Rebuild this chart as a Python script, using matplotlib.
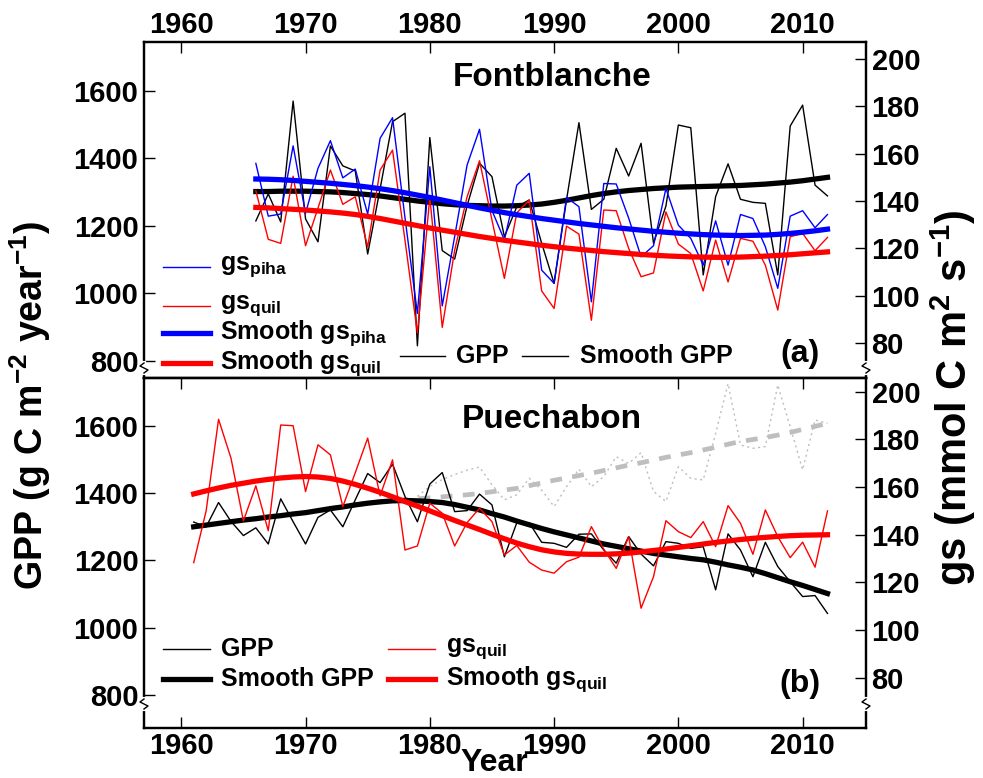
import numpy as np
import matplotlib
matplotlib.use('Agg')
import matplotlib.pyplot as plt
from matplotlib.lines import Line2D

plt.rcParams['font.family'] = ['Liberation Sans', 'DejaVu Sans']
plt.rcParams['font.weight'] = 'bold'
plt.rcParams['mathtext.fontset'] = 'custom'
for k in ('rm', 'it', 'bf', 'sf'):
    plt.rcParams['mathtext.' + k] = 'Liberation Sans:bold'

# ---- Fontblanche (1966-2012) ----
years_font = np.arange(1966, 2013)
gpp_font = [1215, 1295, 1212, 1570, 1221, 1153, 1437, 1378, 1363, 1117,
            1310, 1509, 1534, 845, 1462, 1127, 1102, 1260, 1386, 1346,
            1168, 1257, 1277, 1149, 1030, 1277, 1506, 1249, 1279, 1430,
            1348, 1445, 1149, 1259, 1499, 1491, 1055, 1287, 1384, 1279,
            1270, 1267, 1055, 1496, 1558, 1321, 1289]
gs_piha_font = [155.9, 133.6, 134.5, 163.3, 134.8, 153.8, 165.5, 149.8, 153.5, 134.5,
                166.5, 175.2, 133.0, 92.5, 154.5, 95.7, 125.0, 155.2, 170.3, 136.0,
                123.5, 146.7, 151.7, 110.8, 105.2, 141.5, 137.6, 97.4, 147.4, 147.2,
                132.8, 116.4, 121.1, 145.3, 129.8, 124.2, 112.9, 131.6, 112.9, 134.3,
                132.6, 120.7, 103.1, 133.6, 135.9, 128.7, 134.3]
gs_quil_font = [144.3, 123.8, 122.1, 150.5, 121.1, 137.0, 153.1, 138.6, 141.8, 120.6,
                153.1, 161.5, 123.5, 84.2, 141.8, 86.6, 119.2, 141.8, 157.0, 132.0,
                107.3, 135.0, 140.4, 102.0, 94.6, 129.4, 126.0, 89.6, 136.2, 135.9,
                120.0, 108.0, 109.6, 135.4, 121.8, 117.8, 102.0, 123.5, 105.8, 124.2,
                123.0, 112.9, 93.9, 124.9, 126.3, 119.0, 124.6]
smooth_gpp_font = [1302, 1302, 1303, 1303, 1303, 1302, 1301, 1299, 1296, 1293,
                   1289, 1284, 1279, 1274, 1270, 1266, 1263, 1261, 1260, 1259,
                   1259, 1260, 1262, 1265, 1270, 1276, 1283, 1290, 1296, 1301,
                   1305, 1308, 1311, 1313, 1315, 1316, 1317, 1318, 1319, 1320,
                   1322, 1324, 1327, 1330, 1334, 1339, 1344]
smooth_piha_font = [149.3, 149.2, 149.0, 148.7, 148.3, 147.9, 147.5, 147.0, 146.5, 145.9,
                    145.2, 144.4, 143.5, 142.5, 141.5, 140.4, 139.3, 138.2, 137.1, 136.1,
                    135.1, 134.2, 133.4, 132.6, 131.9, 131.2, 130.5, 129.9, 129.3, 128.7,
                    128.2, 127.7, 127.2, 126.8, 126.4, 126.1, 125.8, 125.6, 125.5, 125.4,
                    125.5, 125.6, 125.9, 126.3, 126.8, 127.4, 128.1]
smooth_quil_font = [137.3, 137.1, 136.8, 136.5, 136.2, 135.8, 135.4, 134.9, 134.3, 133.5,
                    132.6, 131.6, 130.6, 129.6, 128.6, 127.7, 126.8, 125.9, 125.0, 124.2,
                    123.4, 122.7, 122.0, 121.3, 120.7, 120.1, 119.6, 119.1, 118.6, 118.2,
                    117.8, 117.4, 117.1, 116.8, 116.6, 116.4, 116.3, 116.2, 116.2, 116.3,
                    116.5, 116.7, 117.0, 117.3, 117.7, 118.1, 118.5]

# ---- Puechabon (1961-2012) ----
years_pue = np.arange(1961, 2013)
gpp_pue = [1314, 1300, 1372, 1316, 1274, 1297, 1249, 1383, 1315, 1249,
           1328, 1350, 1300, 1380, 1458, 1431, 1486, 1390, 1315, 1427,
           1461, 1345, 1348, 1397, 1365, 1211, 1312, 1312, 1254, 1251,
           1239, 1278, 1279, 1231, 1192, 1271, 1219, 1184, 1256, 1251,
           1236, 1241, 1113, 1279, 1231, 1152, 1254, 1182, 1137, 1093,
           1096, 1043]
gs_quil_pue = [128.3, 150.0, 188.4, 172.1, 145.8, 160.5, 141.7, 186.0, 185.7, 158.1,
               177.7, 173.5, 151.8, 166.0, 180.5, 156.3, 171.4, 133.6, 135.3, 153.2,
               149.0, 135.3, 145.1, 151.1, 145.5, 131.5, 135.5, 128.5, 125.2, 123.9,
               128.7, 130.6, 143.4, 133.9, 125.9, 139.2, 109.2, 122.4, 145.9, 141.3,
               138.8, 145.5, 135.0, 152.2, 144.8, 131.8, 150.4, 139.2, 130.4, 136.9,
               126.4, 150.0]
smooth_gpp_pue = [1300, 1305, 1310, 1315, 1320, 1324, 1329, 1333, 1338, 1342,
                  1348, 1354, 1359, 1365, 1370, 1374, 1377, 1378, 1377, 1375,
                  1372, 1366, 1358, 1350, 1339, 1329, 1317, 1306, 1295, 1285,
                  1276, 1267, 1258, 1249, 1242, 1235, 1228, 1221, 1216, 1211,
                  1206, 1202, 1195, 1187, 1180, 1172, 1161, 1149, 1137, 1126,
                  1114, 1102]
smooth_quil_pue = [157.1, 158.4, 159.6, 160.7, 161.6, 162.5, 163.2, 163.8, 164.2, 164.4,
                   164.2, 163.6, 162.5, 161.1, 159.5, 157.8, 155.9, 153.9, 152.0, 150.0,
                   148.0, 146.0, 144.1, 142.2, 140.2, 138.3, 136.5, 135.0, 133.7, 132.8,
                   132.2, 131.9, 131.8, 131.8, 132.0, 132.3, 132.8, 133.4, 134.0, 134.7,
                   135.4, 136.1, 136.8, 137.4, 138.0, 138.5, 138.9, 139.3, 139.6, 139.8,
                   139.9, 140.0]
years_grey = np.arange(1979, 2013)
grey_pue = [1390, 1420, 1440, 1455, 1468, 1477, 1425, 1380, 1395, 1444,
            1409, 1360, 1419, 1471, 1419, 1449, 1508, 1488, 1520, 1405,
            1375, 1478, 1444, 1439, 1577, 1725, 1543, 1533, 1538, 1721,
            1597, 1469, 1617, 1607]
years_grey_smooth = np.arange(1972, 2013)
grey_smooth_pue = [1354, 1359, 1365, 1370, 1374, 1377, 1380, 1383, 1386, 1389,
                   1392, 1395, 1399, 1404, 1409, 1414, 1422, 1430, 1438, 1445,
                   1452, 1459, 1467, 1475, 1483, 1490, 1498, 1506, 1513, 1520,
                   1528, 1536, 1545, 1553, 1559, 1565, 1572, 1580, 1589, 1598,
                   1607]

xticks = [1960, 1970, 1980, 1990, 2000, 2010]
gpp_ticks = [800, 1000, 1200, 1400, 1600]
gs_ticks = [80, 100, 120, 140, 160, 180, 200]

W, H = 983, 778
def fx(x):
    return x / W
def fy(y):
    return 1 - y / H

fig = plt.figure(figsize=(W / 100, H / 100), dpi=100)
L, R, T, M, B = 144, 866, 42, 378, 728
ax1 = fig.add_axes([fx(L), fy(M), (R - L) / W, (M - T) / H])
ax2 = fig.add_axes([fx(L), fy(B), (R - L) / W, (B - M) / H])
ax1r = ax1.twinx()
ax2r = ax2.twinx()

thin, thick = 1.0, 3.8

# top panel
ax1.plot(years_font, gpp_font, color='black', lw=thin)
ax1.plot(years_font, smooth_gpp_font, color='black', lw=thick)
ax1r.plot(years_font, gs_piha_font, color='#0000FF', lw=thin)
ax1r.plot(years_font, gs_quil_font, color='#FF0000', lw=thin)
ax1r.plot(years_font, smooth_piha_font, color='#0000FF', lw=thick)
ax1r.plot(years_font, smooth_quil_font, color='#FF0000', lw=thick)

# bottom panel
ax2.plot(years_grey, grey_pue, color='#BEBEBE', lw=1.0, linestyle=(0, (1.5, 2.5)))
ax2.plot(years_grey_smooth, grey_smooth_pue, color='#BEBEBE', lw=3.4, linestyle=(0, (2.5, 2.2)))
ax2.plot(years_pue, gpp_pue, color='black', lw=thin)
ax2.plot(years_pue, smooth_gpp_pue, color='black', lw=thick)
ax2r.plot(years_pue, gs_quil_pue, color='#FF0000', lw=thin)
ax2r.plot(years_pue, smooth_quil_pue, color='#FF0000', lw=thick)

for ax in (ax1, ax2):
    ax.set_xlim(1957.0, 2015.1)
    ax.set_xticks(xticks)
    ax.set_yticks(gpp_ticks)
    for s in ax.spines.values():
        s.set_linewidth(1.6)
ax1.set_ylim(749.6, 1745)
ax1r.set_ylim(65.2, 207.2)
ax2.set_ylim(703, 1741.5)
ax2r.set_ylim(59, 205.7)
for axr in (ax1r, ax2r):
    axr.set_yticks(gs_ticks)
    for s in axr.spines.values():
        s.set_linewidth(1.6)

ts = 21
ax1.tick_params(axis='x', direction='in', top=True, bottom=False, labeltop=True,
                labelbottom=False, length=8, width=1, labelsize=ts, pad=2)
ax2.tick_params(axis='x', direction='in', top=True, bottom=True, labeltop=False,
                labelbottom=True, length=8, width=1, labelsize=ts, pad=3)
for ax in (ax1, ax2):
    ax.tick_params(axis='y', direction='in', length=8, width=1, labelsize=ts, pad=4)
for axr in (ax1r, ax2r):
    axr.tick_params(axis='y', direction='in', length=8, width=1, labelsize=ts, pad=4)

# titles and panel tags
fig.text(fx(552), fy(86), 'Fontblanche', ha='center', va='baseline', fontsize=24)
fig.text(fx(552), fy(428), 'Puechabon', ha='center', va='baseline', fontsize=24)
fig.text(fx(800), fy(354), '(a)', ha='center', va='center', fontsize=23)
fig.text(fx(800), fy(684), '(b)', ha='center', va='center', fontsize=23)

# axis labels
fig.text(fx(30), fy(405), r'GPP (g C m$^{-2}$ year$^{-1}$)', rotation=90,
         ha='center', va='center', fontsize=27)
fig.text(fx(953), fy(398), r'gs (mmol C m$^{2}$ s$^{-1}$)', rotation=90,
         ha='center', va='center', fontsize=30)
fig.text(fx(494), fy(771), 'Year', ha='center', va='baseline', fontsize=23)

# legends (pixel positions)
def leg(x0, x1, y, color, lw, label, tx):
    fig.add_artist(Line2D([fx(x0), fx(x1)], [fy(y), fy(y)], color=color, lw=lw,
                          transform=fig.transFigure))
    fig.text(fx(tx), fy(y), label, ha='left', va='center', fontsize=18)

leg(163, 210, 267, '#0000FF', thin, r'gs$_{piha}$', 220)
leg(163, 210, 306, '#FF0000', thin, r'gs$_{quil}$', 220)
leg(163, 210, 333, '#0000FF', thick, r'Smooth gs$_{piha}$', 220)
leg(163, 210, 363, '#FF0000', thick, r'Smooth gs$_{quil}$', 220)
leg(400, 445, 356, 'black', thin, 'GPP', 456)
leg(522, 568, 356, 'black', thin, 'Smooth GPP', 580)

leg(163, 210, 649, 'black', thin, 'GPP', 221)
leg(163, 210, 679, 'black', thick, 'Smooth GPP', 221)
leg(388, 435, 649, '#FF0000', thin, r'gs$_{quil}$', 446)
leg(388, 435, 679, '#FF0000', thick, r'Smooth gs$_{quil}$', 446)

# axis break marks
def brk(x, y):
    fig.add_artist(Line2D([fx(x), fx(x)], [fy(y - 5), fy(y + 5)], color='white', lw=3,
                          transform=fig.transFigure, zorder=10))
    xs = [x, x - 4, x + 4, x]
    ys = [y - 5, y - 2, y + 2, y + 5]
    fig.add_artist(Line2D([fx(v) for v in xs], [fy(v) for v in ys], color='black', lw=1,
                          transform=fig.transFigure, zorder=11))

for xb in (L, R):
    brk(xb, 368)
    brk(xb, 704)

fig.savefig('out.png', dpi=100)
